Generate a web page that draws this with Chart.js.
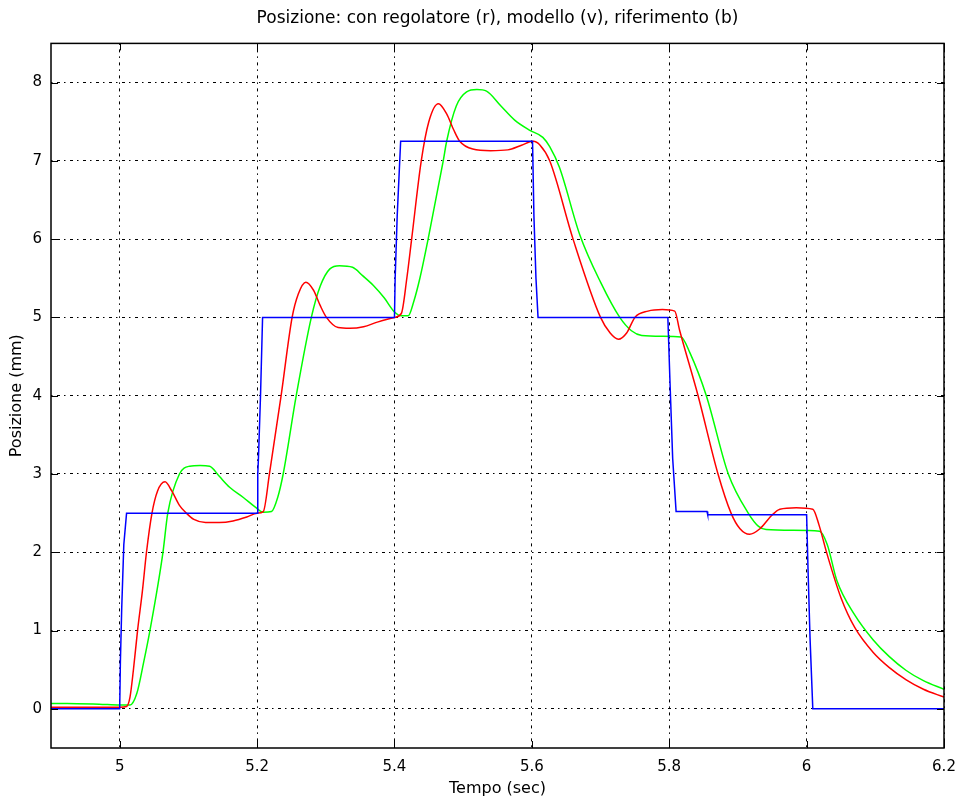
<!DOCTYPE html>
<html>
<head>
<meta charset="utf-8">
<script src="https://cdn.jsdelivr.net/npm/chart.js@4"></script>
<style>
  html, body { margin: 0; padding: 0; background: #fff; }
  #wrap { width: 962px; height: 803px; }
</style>
</head>
<body>
<div id="wrap"><canvas id="posChart" width="962" height="803"></canvas></div>
<script>
// tick labels
const xTicks = [5, 5.2, 5.4, 5.6, 5.8, 6, 6.2];
const yTicks = [0, 1, 2, 3, 4, 5, 6, 7, 8];

// riferimento (b) - blue reference, staircase steps
const refT = [4.9, 5.0, 5.001, 5.003, 5.006, 5.010, 5.200, 5.201, 5.202, 5.205, 5.208, 5.400, 5.401, 5.404, 5.409,
  5.601, 5.603, 5.606, 5.609, 5.798, 5.801, 5.805, 5.810, 5.855, 5.856, 6.000, 6.002, 6.005, 6.009, 6.2];
const refY = [0, 0, 0.6, 1.3, 2.1, 2.5, 2.5, 3.0, 3.2, 4.0, 5.0, 5.0, 5.5, 6.3, 7.25,
  7.25, 6.3, 5.5, 5.0, 5.0, 4.2, 3.2, 2.52, 2.52, 2.48, 2.48, 1.8, 0.9, 0, 0];

// con regolatore (r) - red
const regT = [4.9, 5.0, 5.010, 5.015, 5.020, 5.026, 5.033, 5.039, 5.047, 5.055, 5.066, 5.076, 5.087, 5.097, 5.108,
  5.125, 5.145, 5.165, 5.185, 5.200, 5.209, 5.218, 5.235, 5.251, 5.260, 5.271, 5.282, 5.292, 5.301, 5.318,
  5.335, 5.355, 5.375, 5.400, 5.410, 5.418, 5.425, 5.439, 5.450, 5.464, 5.476, 5.486, 5.495, 5.514, 5.540,
  5.565, 5.585, 5.602, 5.612, 5.626, 5.660, 5.700, 5.714, 5.726, 5.738, 5.750, 5.769, 5.790, 5.808, 5.815,
  5.842, 5.871, 5.890, 5.903, 5.917, 5.932, 5.949, 5.961, 5.985, 6.009, 6.018, 6.029, 6.050, 6.070, 6.097,
  6.120, 6.145, 6.170, 6.200];
const regY = [0.02, 0.02, 0.03, 0.15, 0.5, 1.0, 1.5, 2.0, 2.5, 2.78, 2.90, 2.78, 2.6, 2.5, 2.42,
  2.38, 2.38, 2.40, 2.45, 2.5, 2.52, 3.0, 4.0, 5.0, 5.3, 5.45, 5.35, 5.15, 5.0, 4.87,
  4.86, 4.88, 4.94, 5.0, 5.05, 5.5, 6.0, 7.0, 7.5, 7.73, 7.6, 7.4, 7.25, 7.15, 7.13,
  7.14, 7.2, 7.25, 7.2, 7.0, 6.0, 5.0, 4.8, 4.72, 4.8, 5.0, 5.08, 5.1, 5.08, 4.84,
  4.0, 3.0, 2.5, 2.3, 2.23, 2.3, 2.47, 2.55, 2.57, 2.55, 2.35, 2.0, 1.42, 1.04, 0.72,
  0.53, 0.37, 0.25, 0.15];

// modello (v) - green
const modT = [4.9, 4.97, 5.0, 5.015, 5.025, 5.035, 5.044, 5.063, 5.070, 5.087, 5.102, 5.117, 5.131, 5.145, 5.160,
  5.180, 5.197, 5.209, 5.221, 5.230, 5.238, 5.257, 5.279, 5.292, 5.306, 5.320, 5.339, 5.354, 5.369, 5.385,
  5.400, 5.410, 5.420, 5.428, 5.437, 5.449, 5.471, 5.476, 5.490, 5.505, 5.520, 5.534, 5.555, 5.575, 5.597,
  5.616, 5.626, 5.640, 5.670, 5.700, 5.728, 5.745, 5.760, 5.790, 5.817, 5.830, 5.854, 5.886, 5.915, 5.930,
  5.941, 5.980, 6.019, 6.030, 6.044, 6.070, 6.097, 6.120, 6.145, 6.170, 6.200];
const modY = [0.07, 0.06, 0.05, 0.05, 0.2, 0.6, 1.0, 2.0, 2.5, 3.0, 3.10, 3.11, 3.10, 2.97, 2.83,
  2.70, 2.58, 2.51, 2.52, 2.7, 3.0, 4.0, 5.0, 5.4, 5.62, 5.66, 5.64, 5.53, 5.41, 5.25,
  5.07, 5.02, 5.02, 5.2, 5.5, 6.0, 7.0, 7.25, 7.7, 7.88, 7.91, 7.89, 7.70, 7.52, 7.39,
  7.30, 7.18, 6.92, 6.05, 5.45, 5.0, 4.83, 4.77, 4.76, 4.75, 4.55, 4.0, 3.0, 2.5, 2.33,
  2.29, 2.28, 2.27, 2.1, 1.64, 1.2, 0.88, 0.67, 0.49, 0.36, 0.25];

function toPoints(ts, ys) {
  return ts.map((t, i) => ({ x: t, y: ys[i] }));
}

const FONT = "'DejaVu Sans', Verdana, sans-serif";

// box round the plot plus matlab style inward ticks on all four sides
const framePlugin = {
  id: 'frame',
  afterDraw(chart) {
    const { ctx, chartArea: a, scales } = chart;
    const len = 7;
    ctx.save();
    ctx.strokeStyle = '#000';
    ctx.lineWidth = 1.5;
    ctx.strokeRect(a.left, a.top, a.right - a.left, a.bottom - a.top);
    ctx.lineWidth = 1;
    ctx.beginPath();
    scales.x.ticks.forEach((t) => {
      const px = Math.round(scales.x.getPixelForValue(t.value)) + 0.5;
      ctx.moveTo(px, a.bottom); ctx.lineTo(px, a.bottom - len);
      ctx.moveTo(px, a.top); ctx.lineTo(px, a.top + len);
    });
    scales.y.ticks.forEach((t) => {
      const py = Math.round(scales.y.getPixelForValue(t.value)) + 0.5;
      ctx.moveTo(a.left, py); ctx.lineTo(a.left + len, py);
      ctx.moveTo(a.right, py); ctx.lineTo(a.right - len, py);
    });
    ctx.stroke();
    ctx.restore();
  }
};

const ctx = document.getElementById('posChart');
new Chart(ctx, {
  type: 'line',
  data: {
    datasets: [
      {
        label: 'riferimento',
        data: toPoints(refT, refY),
        borderColor: '#0000ff',
        borderWidth: 1.5,
        pointRadius: 0,
        tension: 0
      },
      {
        label: 'regolatore',
        data: toPoints(regT, regY),
        borderColor: '#ff0000',
        borderWidth: 1.5,
        pointRadius: 0,
        cubicInterpolationMode: 'monotone'
      },
      {
        label: 'modello',
        data: toPoints(modT, modY),
        borderColor: '#00ff00',
        borderWidth: 1.5,
        pointRadius: 0,
        cubicInterpolationMode: 'monotone'
      }
    ]
  },
  options: {
    responsive: false,
    animation: false,
    layout: { padding: { left: 0, right: 18, top: 0, bottom: 0 } },
    scales: {
      x: {
        type: 'linear',
        min: 4.9,
        max: 6.2,
        afterBuildTicks: (scale) => { scale.ticks = xTicks.map((v) => ({ value: v })); },
        afterFit: (scale) => {
          scale.height = 55;
          scale.paddingLeft = 0;
          scale.paddingRight = 0;
        },
        ticks: {
          color: '#000',
          font: { family: FONT, size: 15 },
          padding: 10,
          maxRotation: 0,
          callback: (v) => String(Math.round(v * 10) / 10)
        },
        grid: { color: '#000', lineWidth: 1, drawTicks: false },
        border: { display: false, dash: [1.5, 4.5, 3, 4] },
        title: {
          display: true,
          text: 'Tempo (sec)',
          color: '#000',
          font: { family: FONT, size: 16 },
          padding: { top: 0, bottom: 5 }
        }
      },
      y: {
        type: 'linear',
        min: -0.5,
        max: 8.5,
        afterBuildTicks: (scale) => { scale.ticks = yTicks.map((v) => ({ value: v })); },
        afterFit: (scale) => { scale.width = 51; },
        ticks: {
          color: '#000',
          font: { family: FONT, size: 15 },
          padding: 9
        },
        grid: { color: '#000', lineWidth: 1, drawTicks: false },
        border: { display: false, dash: [1.5, 4.5, 3, 4] },
        title: {
          display: true,
          text: 'Posizione (mm)',
          color: '#000',
          font: { family: FONT, size: 16 },
          padding: { top: 7, bottom: 0 }
        }
      }
    },
    plugins: {
      legend: { display: false },
      tooltip: { enabled: false },
      title: {
        display: true,
        fullSize: false,
        text: 'Posizione: con regolatore (r), modello (v), riferimento (b)',
        color: '#000',
        font: { family: FONT, size: 17, weight: 'normal' },
        padding: { top: 8, bottom: 15 }
      }
    }
  },
  plugins: [framePlugin]
});
</script>
</body>
</html>
